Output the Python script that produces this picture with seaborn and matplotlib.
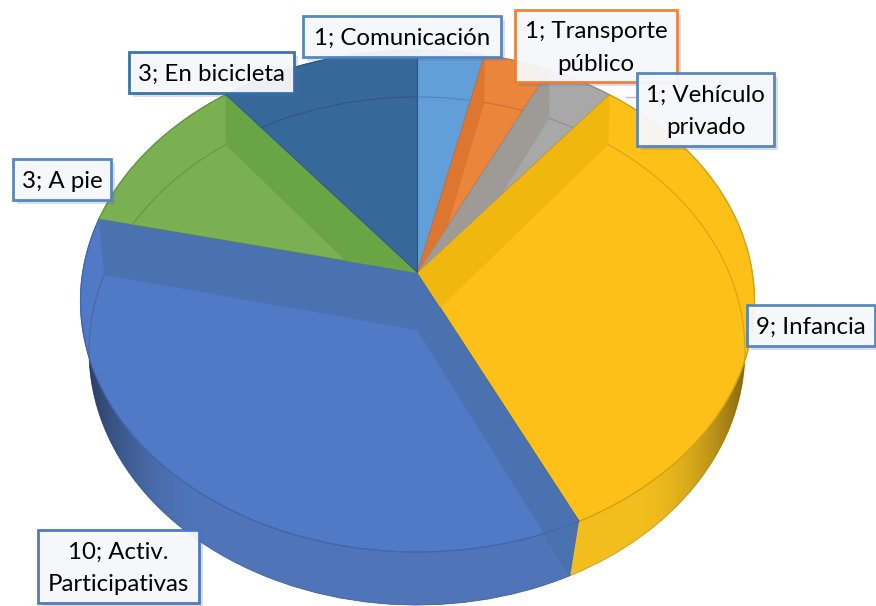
import numpy as np
import matplotlib
matplotlib.use('Agg')
import matplotlib.pyplot as plt
import matplotlib.patches as patches
import matplotlib.patheffects as pe
from matplotlib.colors import to_rgb
from matplotlib.transforms import Transform
import seaborn as sns

# slices, clockwise from 12 o'clock
categories = ['Comunicación', 'Transporte\npúblico', 'Vehículo\nprivado', 'Infancia',
              'Activ.\nParticipativas', 'A pie', 'En bicicleta']
values = [1, 1, 1, 9, 10, 3, 3]

face_colors = ['#629FD8', '#EC853C', '#A8A8A8', '#FCC018', '#507AC6', '#7AB051', '#36689A']
wall_colors = ['#629FD8', '#DC7630', '#9E9A96', '#F0B80E', '#4A72B0', '#6AA545', '#36689A']
side_colors = ['#629FD8', '#EC853C', '#A8A8A8', '#F2BE1E', '#4F74B8', '#7AB051', '#36689A']
border_colors = ['#4F81BD', '#ED7D31', '#4F81BD', '#4F81BD', '#4472C4', '#4F81BD', '#2F6CA8']

# label boxes in pixels: left, top, right, bottom
label_boxes = [(303, 16, 501, 57), (515, 10, 677, 82), (637, 73, 774, 146), (747, 305, 875, 346),
               (38, 530, 199, 603), (13, 159, 111, 200), (129, 52, 294, 93)]
label_order = [0, 1, 2, 3, 4, 5, 6]

# rims of the disc: centre x, centre y, radius x, radius y, y of the apex
upper_rim = (417.5, 301, 337, 251, 273)
lower_rim = (417, 351, 328, 254, 330)


class Tilt(Transform):
    # unit circle to the ellipse on the page, apex moved off centre like in the 3D chart
    input_dims = 2
    output_dims = 2

    def __init__(self, cx, cy, rx, ry, apex_y):
        super().__init__()
        self.cx, self.cy, self.rx, self.ry = cx, cy, rx, ry
        self.b = (cy - apex_y) / ry

    def transform_non_affine(self, xy):
        xy = np.asarray(xy, dtype=float)
        w = 1 + self.b * xy[:, 1]
        x = xy[:, 0] * np.sqrt(1 - self.b ** 2) / w
        y = (xy[:, 1] + self.b) / w
        return np.column_stack([self.cx + self.rx * x, self.cy - self.ry * y])


def on_rim(tilt, theta):
    theta = np.radians(np.atleast_1d(theta))
    return tilt.transform_non_affine(np.column_stack([np.cos(theta), np.sin(theta)]))


def draw_pie(ax, tilt, colors, zorder, edge=None):
    wedges, _ = ax.pie(values, colors=colors, startangle=90, counterclock=False)
    for w, c in zip(wedges, colors):
        w.set_transform(tilt + ax.transData)
        w.set_zorder(zorder)
        w.set_edgecolor(np.array(to_rgb(c)) * 0.82 if edge else c)
        w.set_linewidth(edge if edge else 0.3)
    return wedges


sns.set_theme(style='white')
plt.rcParams['font.family'] = ['Lato', 'DejaVu Sans']

fig = plt.figure(figsize=(8.76, 6.06), dpi=100)
ax = fig.add_axes([0, 0, 1, 1])

upper = Tilt(*upper_rim)
lower = Tilt(*lower_rim)

# side of the disc, then the shading at both ends of it
draw_pie(ax, lower, side_colors, 1, edge=0.6)
xs = np.arange(876)
shade = np.zeros((1, 876, 4))
shade[..., 3] = np.clip((np.abs(xs - 417) - 215) / 115, 0, 1) ** 2 * 0.47
im = ax.imshow(shade, extent=(0, 876, 606, 0), aspect='auto', zorder=2)
im.set_clip_path(patches.Ellipse((417, 351), 656, 508, transform=ax.transData))

# top of the disc
top_wedges = draw_pie(ax, upper, face_colors, 3, edge=0.8)

# darker bands along the slice edges
biggest = int(np.argmax(values))
for i in range(len(values) - 1):
    a = top_wedges[i].theta1
    p_out = on_rim(upper, a)[0]
    q_out = on_rim(lower, a)[0]
    owner = i + 1 if p_out[0] > upper_rim[0] else i
    band = ax.fill([upper_rim[0], p_out[0], q_out[0], lower_rim[0]],
                   [upper_rim[4], p_out[1], q_out[1], lower_rim[4]],
                   color=wall_colors[owner], lw=0, zorder=4)[0]
    if owner != biggest:
        band.set_clip_path(top_wedges[owner])

# thin far rim seen through the top, and the near rim over the bands
for w, c in zip(top_wedges, face_colors):
    line_color = np.array(to_rgb(c)) * 0.85
    pts = on_rim(lower, np.linspace(w.theta1, w.theta2, 80))
    ln, = ax.plot(pts[:, 0], pts[:, 1], color=line_color, lw=0.8, zorder=5)
    ln.set_clip_path(w)
    pts = on_rim(upper, np.linspace(w.theta1, w.theta2, 80))
    ax.plot(pts[:, 0], pts[:, 1], color=line_color, lw=0.8, zorder=5)

# leader of the Vehículo label
ax.plot([626, 637], [97, 97], color='#BFBFBF', lw=1, zorder=5)

for i in label_order:
    left, top, right, bottom = label_boxes[i]
    box = patches.Rectangle((left, top), right - left, bottom - top, facecolor='#F8F9FC', alpha=0.94,
                            edgecolor=border_colors[i], lw=2, zorder=7 + i * 0.01)
    box.set_path_effects([pe.SimplePatchShadow(offset=(3, -3), alpha=0.22, shadow_rgbFace='#4F6F9F'),
                          pe.Normal()])
    ax.add_patch(box)
    ax.text((left + right) / 2, (top + bottom) / 2 + 2, f'{values[i]}; {categories[i]}', ha='center',
            va='center', fontsize=17.3, color='black', linespacing=1.7, zorder=7.5 + i * 0.01)

ax.set_aspect('auto')
ax.set_xlim(0, 876)
ax.set_ylim(606, 0)
ax.axis('off')

fig.savefig('out.png', dpi=100, facecolor='white')
